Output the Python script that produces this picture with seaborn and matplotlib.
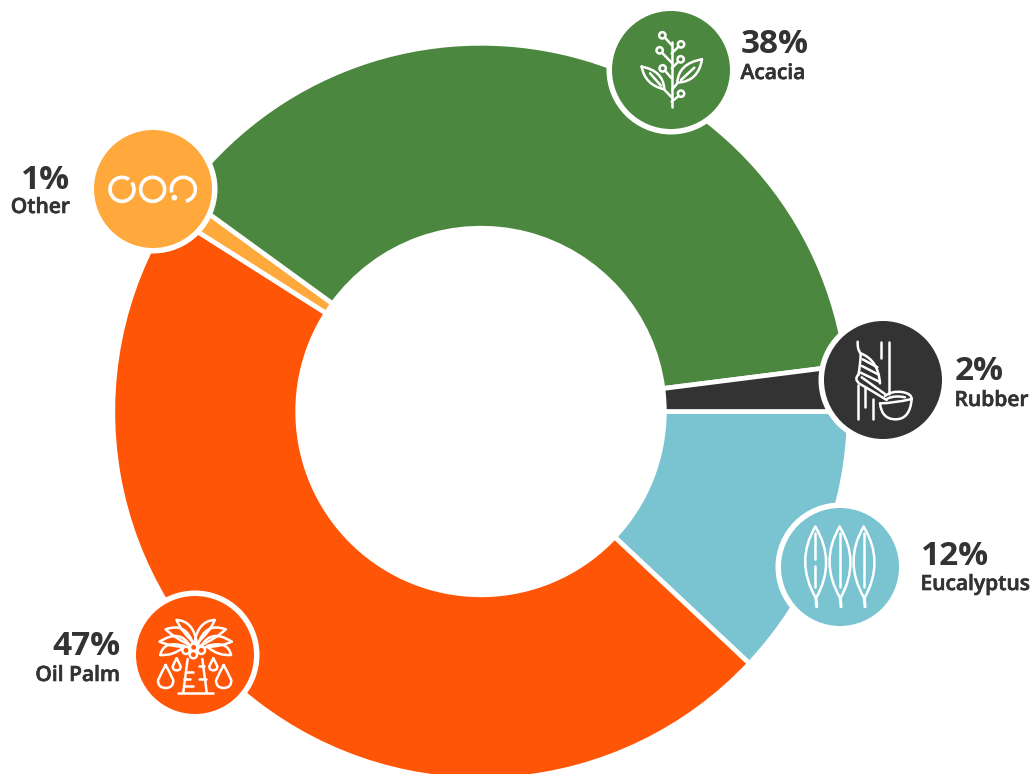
import numpy as np
import matplotlib
matplotlib.use("Agg")
import matplotlib.pyplot as plt
import matplotlib.patheffects as pe
from matplotlib.patches import Circle, PathPatch, Arc
from matplotlib.path import Path
import seaborn as sns

# data
categories = ["Eucalyptus", "Oil Palm", "Other", "Acacia", "Rubber"]
shares = [12, 47, 1, 38, 2]
hex_colors = ["#7AC4D2", "#FF5506", "#FFA93C", "#4C873F", "#333333"]

W, H = 1035, 774
sns.set_theme(style="white")
plt.rcParams["font.family"] = ["Open Sans", "DejaVu Sans"]
palette = sns.color_palette(hex_colors)

fig = plt.figure(figsize=(W / 100, H / 100), dpi=100)
ax = fig.add_axes([0, 0, 1, 1])

ax.pie(shares, colors=palette, startangle=0, counterclock=False,
       center=(481, H - 411.5), radius=368.2,
       wedgeprops=dict(width=184.9, edgecolor="white", linewidth=3.4))
ax.set_xlim(0, W)
ax.set_ylim(0, H)
ax.set_aspect("equal")
ax.axis("off")

# badge centres, text anchors: (x, percent baseline, label baseline, ha)
badges = {"Acacia": (671, 70), "Rubber": (883, 380), "Eucalyptus": (840, 567),
          "Oil Palm": (195, 655), "Other": (153, 189)}
anchors = {"Acacia": (740.5, 53, 79, "left"), "Rubber": (954.5, 380, 406, "left"),
           "Eucalyptus": (920.5, 565, 590, "left"), "Oil Palm": (120.5, 655, 681, "right"),
           "Other": (70, 189, 213, "right")}

for cat, val, col in zip(categories, shares, palette):
    cx, cy = badges[cat]
    ax.add_patch(Circle((cx, H - cy), 64.5, fc="white", ec="none", zorder=5))
    ax.add_patch(Circle((cx, H - cy), 59, fc=col, ec="none", zorder=6))
    x, y1, y2, ha = anchors[cat]
    ax.text(x, H - y1, f"{val}%", ha=ha, va="baseline", fontsize=24,
            fontweight="bold", color="#333333", zorder=8)
    ax.text(x, H - y2, cat, ha=ha, va="baseline", fontsize=15.1,
            fontweight="semibold", color="#333333", zorder=8,
            path_effects=[pe.withStroke(linewidth=0.45, foreground="#333333")])

LW = 1.8


class Icon:
    """Line art drawn in 3x zoom pixel coordinates."""
    def __init__(self, ox, oy, lw=LW):
        self.ox, self.oy, self.lw = ox, oy, lw

    def p(self, x, y):
        return (self.ox + x / 3, H - (self.oy + y / 3))

    def line(self, *pts, lw=None):
        xs, ys = zip(*[self.p(*q) for q in pts])
        ax.plot(xs, ys, color="white", lw=lw or self.lw, zorder=7,
                solid_capstyle="round", solid_joinstyle="round")

    def circle(self, x, y, r, lw=None, fill=False):
        ax.add_patch(Circle(self.p(x, y), r / 3, fc="white" if fill else "none", ec="white",
                            lw=lw or self.lw, zorder=7))

    def arc(self, x, y, r, a1, a2, lw=None):
        ax.add_patch(Arc(self.p(x, y), 2 * r / 3, 2 * r / 3, theta1=a1, theta2=a2,
                         ec="white", lw=lw or self.lw, zorder=7))

    def quad(self, *segs, lw=None):
        start, rest = segs[0], segs[1:]
        v, c = [self.p(*start)], [Path.MOVETO]
        for ctrl, end in rest:
            v += [self.p(*ctrl), self.p(*end)]
            c += [Path.CURVE3, Path.CURVE3]
        ax.add_patch(PathPatch(Path(v, c), fc="none", ec="white",
                               lw=lw or self.lw, zorder=7, capstyle="round",
                               joinstyle="round"))


# Acacia sprig
a = Icon(600, 0)
a.line((215, 320), (215, 125))
for (cx_, cy_, bx, by, sx, sy) in [(187, 106, 194, 112, 215, 135), (243, 133, 236, 140, 215, 160),
                                   (179, 151, 186, 158, 215, 188), (242, 178, 235, 185, 215, 205),
                                   (188, 205, 195, 212, 215, 235), (243, 281, 236, 288, 215, 305)]:
    a.circle(cx_, cy_, 9.5)
    a.line((bx, by), (sx, sy))
a.line((215, 292), (190, 266))
a.line((217, 268), (232, 250))
a.quad((125, 200), ((135, 255), (193, 268)), ((190, 212), (125, 200)))
a.line((150, 220), (183, 257))
a.quad((306, 178), ((235, 190), (232, 248)), ((295, 245), (306, 178)))
a.line((283, 203), (243, 240))

# Rubber trunk, tap and bowl
r = Icon(770, 320)
for seg in [((263, 195), (263, 298)), ((285, 205), (285, 262)), ((310, 238), (310, 298)),
            ((333, 65), (333, 115)), ((356, 65), (356, 222))]:
    r.line(*seg)
r.quad((263, 65), ((262, 90), (272, 100)), ((272, 130), (265, 165)))
r.quad((272, 100), ((325, 120), (330, 190)))
r.line((278, 118), (322, 142))
r.line((276, 138), (326, 164))
r.line((272, 158), (330, 186))
r.quad((266, 163), ((250, 178), (270, 192)), ((310, 215), (350, 240)))
r.line((275, 172), (345, 222))
r.quad((345, 228), ((365, 212), (395, 216)), ((425, 220), (425, 237)))
r.quad((330, 250), ((370, 250), (425, 237)))
r.quad((352, 236), ((375, 225), (405, 232)))
r.quad((330, 250), ((335, 298), (377, 298)), ((420, 298), (425, 237)))

# Eucalyptus leaves
e = Icon(770, 320)
for i, x0 in enumerate((136, 209, 281)):
    e.quad((x0, 620), ((x0 - 62, 725), (x0 + 2, 835)))
    e.quad((x0, 620), ((x0 + 64, 725), (x0 + 2, 835)))
    e.line((x0 + 2, 835), (x0 + 4, 860), lw=2.2)
    if i == 0:
        e.line((x0, 640), (x0, 718))
        e.line((x0, 738), (x0, 800))
    else:
        e.line((x0, 640), (x0, 800))

# Oil palm fronds, mirrored about the crown
o = Icon(125, 590)
fronds = [
    ((155, 90), (205, 92), (216, 160), (168, 125), (155, 90)),
    ((122, 118), (185, 95), (205, 165), (150, 145), (122, 118)),
    ((104, 155), (165, 115), (195, 168), (135, 170), (104, 155)),
    ((106, 195), (115, 150), (178, 168), (145, 198), (106, 195)),
]
for tip, c1, root, c2, _ in fronds:
    o.quad(tip, (c1, root))
    o.quad(tip, (c2, (root[0] - 3, root[1] + 4)))
    mir = lambda q: (424 - q[0], q[1])
    o.quad(mir(tip), (mir(c1), mir(root)))
    o.quad(mir(tip), (mir(c2), mir((root[0] - 3, root[1] + 4))))
for x_, y_ in [(183, 181), (206, 172), (229, 181), (205, 194)]:
    ax.add_patch(Circle(o.p(x_, y_), 11 / 3, fc=palette[1], ec="white", lw=LW, zorder=7.1))
o.line((188, 207), (175, 306))
o.line((232, 207), (245, 306))
o.line((158, 308), (265, 308))
for seg in [((186, 245), (205, 245)), ((178, 268), (195, 268)), ((180, 288), (205, 288)),
            ((222, 228), (238, 228)), ((222, 268), (243, 268))]:
    o.line(*seg)


def drop(ic, x, ytop, rad):
    yc = ytop + 2.0 * rad
    ic.quad((x, ytop), ((x - rad * 0.55, ytop + rad), (x - rad, yc)),
            ((x - rad, yc + rad), (x, yc + rad)),
            ((x + rad, yc + rad), (x + rad, yc)),
            ((x + rad * 0.55, ytop + rad), (x, ytop)))


for x_, yt, rd in [(122, 225, 23), (296, 225, 23), (155, 205, 12), (265, 205, 12)]:
    drop(o, x_, yt, rd)

# Other: three rings
t = Icon(85, 125, lw=2.6)
t.arc(111, 193, 36, 55, 395)
t.circle(203, 193, 36)
t.arc(295, 193, 36, 282, 555)
t.circle(268, 218, 3, fill=True)

fig.savefig("out.png", dpi=100)
